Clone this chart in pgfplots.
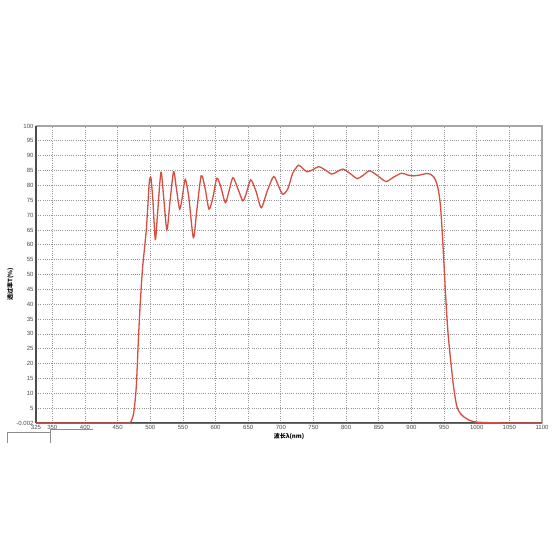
\documentclass[border=0pt]{standalone}
\usepackage{fontspec}
\setmainfont{Liberation Sans}
\newfontfamily\cjk{Noto Sans CJK SC}
\usepackage{pgfplots}
\pgfplotsset{compat=1.18}
\definecolor{curve}{RGB}{214,78,66}
\definecolor{base}{RGB}{110,90,200}
\definecolor{gridc}{RGB}{150,150,150}
\begin{document}
\begin{tikzpicture}[x=1pt,y=1pt]
\useasboundingbox (0,0) rectangle (560,560);
\begin{axis}[
    at={(36pt,137pt)}, anchor=south west,
    scale only axis, width=506pt, height=297pt,
    xmin=325, xmax=1100, ymin=-0.002, ymax=100,
    xtick={325,350,400,450,500,550,600,650,700,750,800,850,900,950,1000,1050,1100},
    ytick={-0.002,5,10,15,20,25,30,35,40,45,50,55,60,65,70,75,80,85,90,95,100},
    yticklabels={-0.002,5,10,15,20,25,30,35,40,45,50,55,60,65,70,75,80,85,90,95,100},
    tick label style={font=\fontsize{6}{7}\selectfont, text=black!70},
    xticklabel style={yshift=1pt},
    yticklabel style={xshift=1pt},
    /pgf/number format/assume math mode=true,
    /pgf/number format/1000 sep={},
    major tick length=0pt,
    grid=major,
    major grid style={gridc, line width=0.7pt, dash pattern=on 0.8pt off 1.4pt},
    axis line style={draw=none},
    clip=false,
    xlabel={\cjk 波长λ(nm)},
    ylabel={\cjk 透过率T(\%)},
    xlabel style={font=\fontsize{6}{7}\selectfont\bfseries, yshift=3pt},
    ylabel style={font=\fontsize{6}{7}\selectfont\bfseries, yshift=-4pt, xshift=-10pt},
]
% frame
\draw[black!35, line width=1.6pt] (axis cs:325,100) -- (axis cs:1100,100) -- (axis cs:1100,-0.002);
\draw[black!70, line width=1.2pt] (axis cs:325,-0.002) -- (axis cs:1100,-0.002);
\draw[black!70, line width=2pt] (axis cs:325,-0.002) -- (axis cs:325,100);
% baseline series
\addplot[base, line width=0.6pt] coordinates {(325,0) (1100,0)};
% transmittance
\addplot[curve, line width=1.3pt, smooth, tension=0.45] coordinates {
(325,0) (400,0) (460,0) (469,0.1) (474.5,3.2) (478.6,12.3) (482,29)
(484.7,40.4) (488,51.7) (491,58.4) (494,65.2) (496,72) (498.5,81)
(501,82.5) (504,75) (507.7,61.8) (511,70) (516.4,84.4) (520.5,76)
(525.5,65) (530,74) (535.7,84.6) (540,79) (545,72) (549,76)
(553.6,82) (559,76) (566,62.4) (571,71) (578,83.2) (584,79)
(590,72) (596,76) (602,82.4) (608,79.5) (615,74.2) (620.5,78)
(626.6,82.6) (634,79) (642,74.8) (648,78) (654,81.9) (662,78)
(670,72.5) (679,78) (689,83) (696,80) (703,77) (711,79)
(718,84) (727,86.8) (733,85.8) (740,84.6) (749,85.3) (758,86.3)
(768,85.2) (778,83.8) (786,84.6) (795,85.5) (806,84) (817,82.3)
(826,83.4) (836,84.9) (848,83.3) (861,81.3) (872,82.7) (885,84.1)
(894,83.5) (903,83.2) (913,83.5) (923.6,84) (929,83.8) (935,82.6)
(939,80.5) (942,77.5) (944.5,73) (947,65) (949.5,55) (952.5,42.5)
(955.3,32.5) (958,25.5) (960.5,20.3) (964.5,12.3) (969.6,5.5) (975,3.2)
(980,2.1) (990,0.8) (1000,0.3) (1020,0.1) (1050,0) (1100,0)
};
\end{axis}
% stray lines under the axis
\draw[black!45, line width=0.8pt] (7,117) -- (7,128) -- (50,128) -- (50,117);
\draw[black!45, line width=0.8pt] (50,128) -- (50,131) -- (93,131);
\end{tikzpicture}
\end{document}
